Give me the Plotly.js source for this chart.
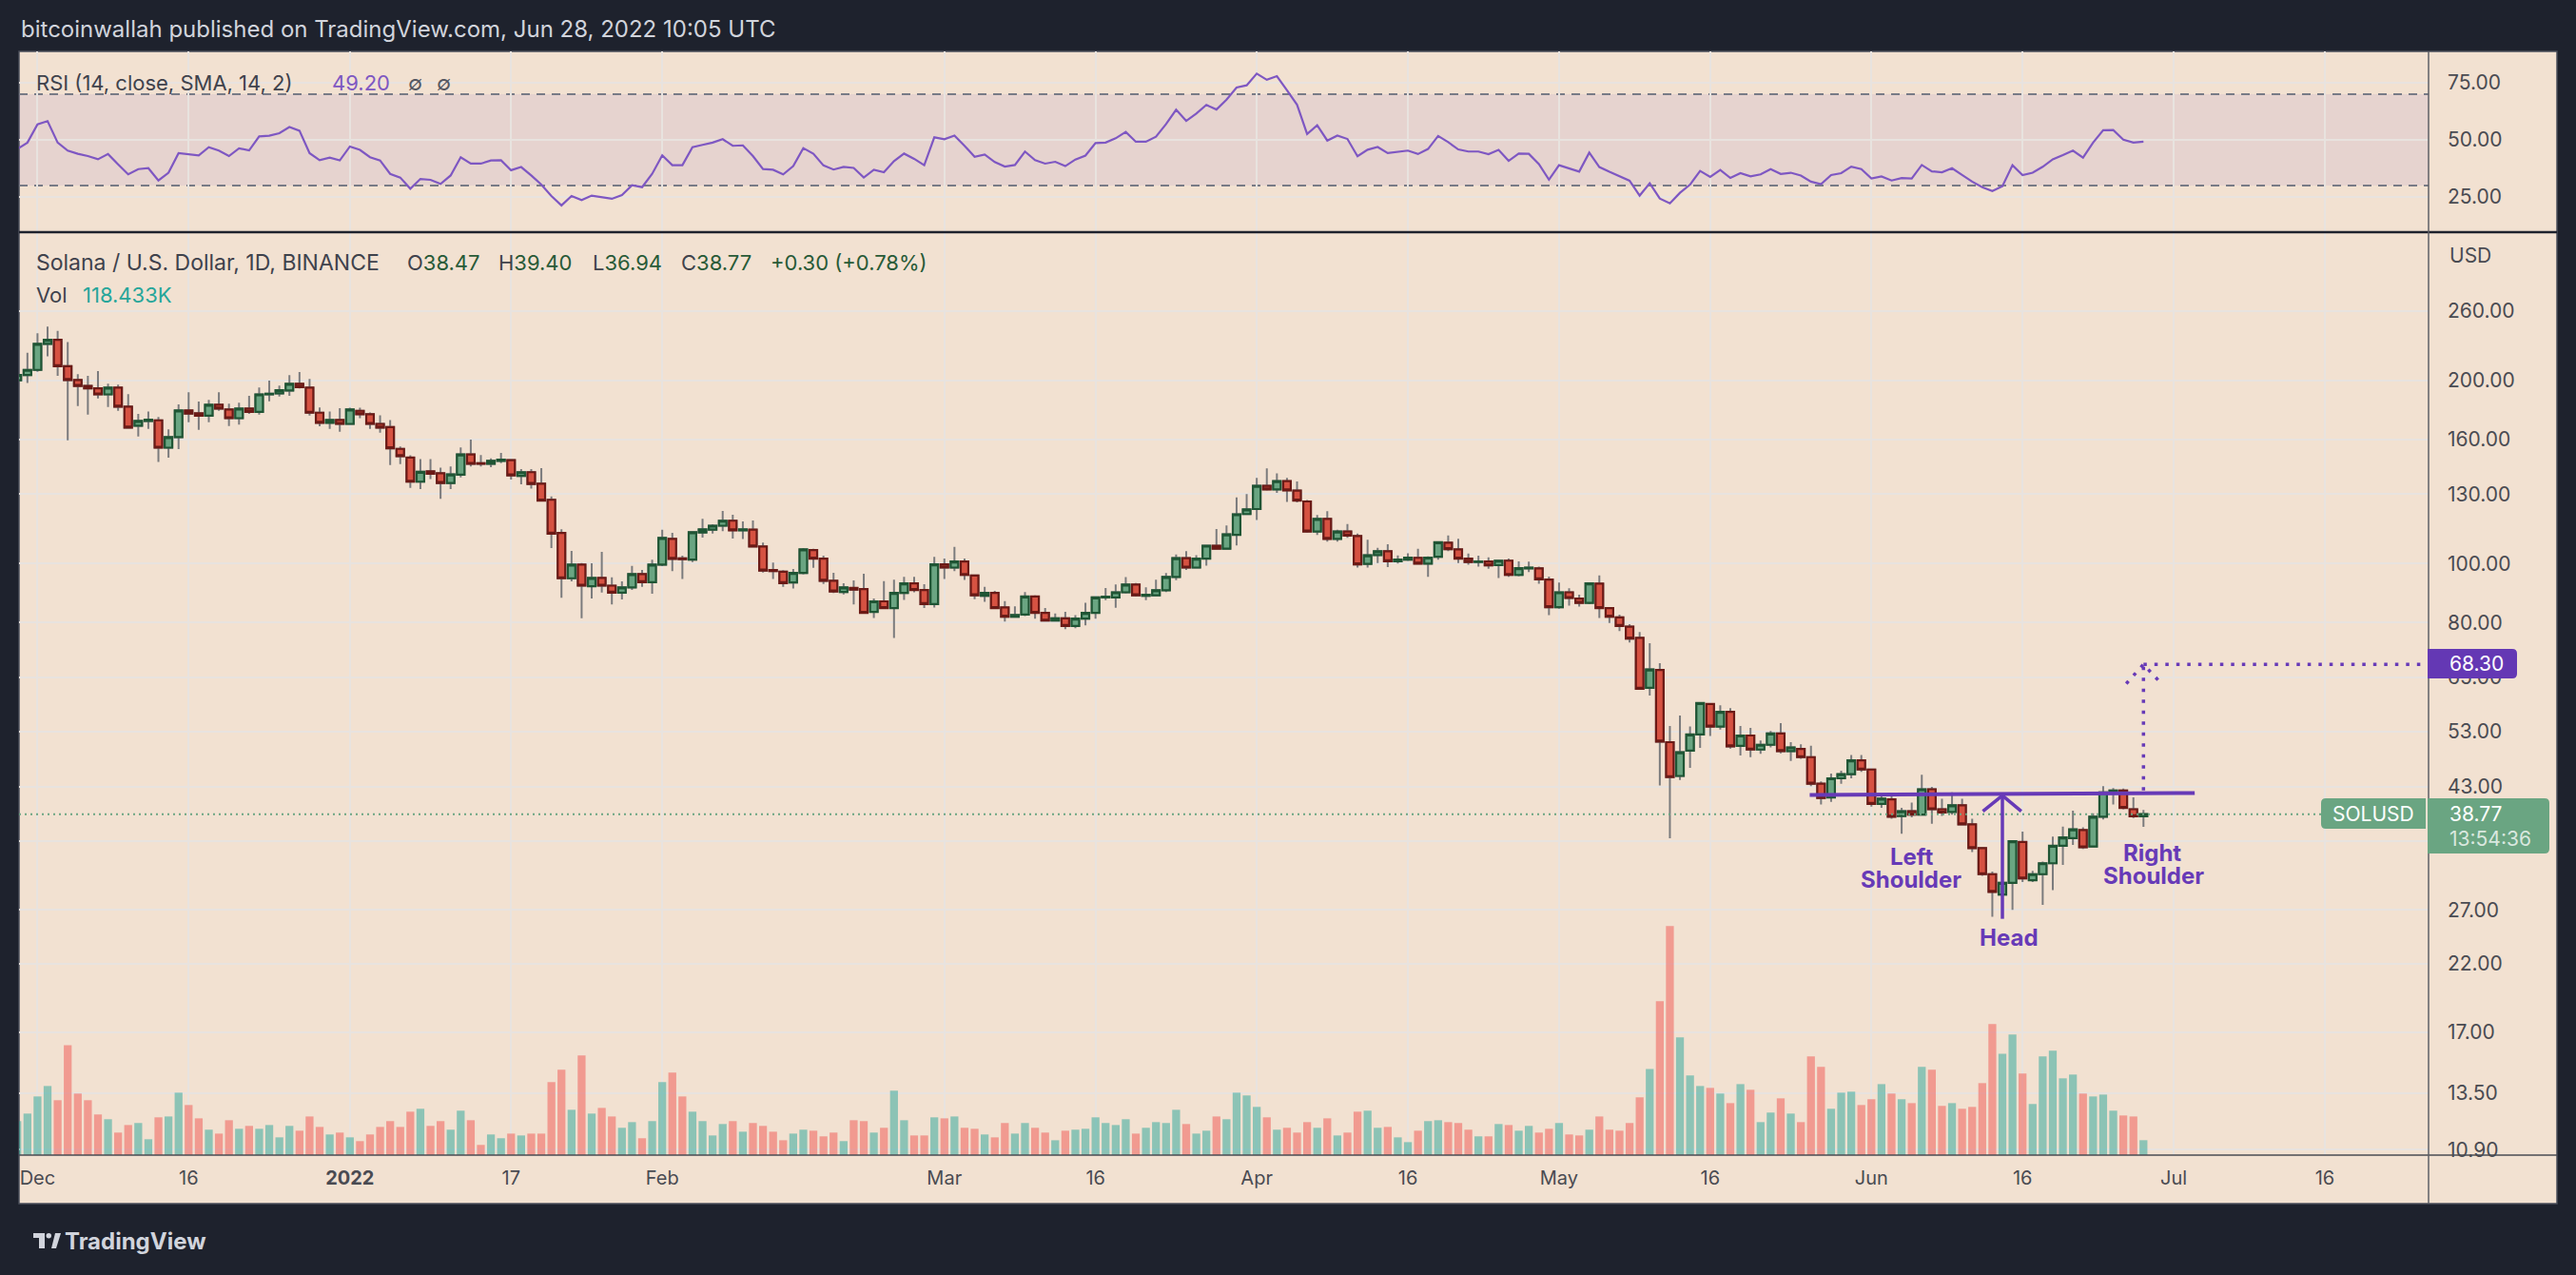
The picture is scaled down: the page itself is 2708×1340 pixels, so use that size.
<!DOCTYPE html>
<html>
<head>
<meta charset="utf-8">
<script src="https://cdn.plot.ly/plotly-3.0.1.min.js"></script>
<style>
html,body{margin:0;padding:0;background:#1e222d;}
#chart{width:2708px;height:1340px;}
</style>
</head>
<body>
<div id="chart"></div>
<script>
// ---------------- DATA (SOL/USD daily, Binance, 2021-11-29 .. 2022-06-28) ----------------
const firstDay = '2021-11-29';

const openP = [
  200, 204,
  208, 229.5, 233, 211, 200.2, 195.8, 194, 189.6, 194.5, 181, 168.4, 171.5, 171.9, 155, 161.3, 178.4, 176.5, 175, 182.3, 179.1, 173.3, 179.7, 177.5, 189.6, 190.3, 192.4, 197.3, 194.5, 176.9, 170.3, 172.1,
  169.6, 178.2, 175.9, 169.6, 167.6, 154.3, 149.3, 136.3, 141.7, 140.7, 135.6, 140, 151.1, 146.2, 145.8, 147.5, 147.9, 139.3, 141.3, 135.3, 127.3, 112.3, 94.6, 99.6, 91.8, 94.7, 92, 89.6, 91.4, 96.1, 93.2,
  99.6, 109.8, 102, 101.5, 112.5, 113.7, 115.4, 117.6, 113.4, 113.7, 106.7, 97.6, 97, 93.1, 96.5, 105.2, 101.9, 93.7, 89.8, 91.2, 90.8, 83.3, 86.7, 84.5, 89.5, 92.8, 90.5, 85.8,
  99.7, 98.5, 100.8, 95.6, 88.5, 89.5, 84.7, 81.8, 82.5, 88.3, 83, 80.6, 81.3, 79, 81.2, 83, 88, 88, 89.7, 92.4, 88.5, 88.7, 90.4, 95.1, 102.1, 98.5, 101.9, 107, 105.8, 111.5, 120.6,
  122.9, 134.2, 132.4, 136.6, 131.8, 126.5, 112.9, 118.4, 109.8, 112.9, 111, 99.9, 103.3, 104.8, 100.9, 101.5, 102.2, 100, 102.6, 108.2, 105.5, 101.9, 100.6, 100.8, 99.4, 101.1, 95.8, 98.2, 98.2, 94.1,
  84.8, 89.7, 87.6, 86.2, 92.7, 84.5, 81.6, 78.8, 75.5, 62.5, 66.9, 50.9, 44.8, 49.3, 52.4, 58.8, 54, 57.1, 50.2, 52.2, 49.5, 50.4, 52.6, 49.2, 49.6, 48.1, 43.5, 41.3, 44.4, 45.1, 47.5,
  45.9, 40.3, 41, 38.5, 39.2, 38.7, 42.6, 39.5, 39.1, 40.1, 37.3, 34.1, 30.9, 28.6, 29.9, 34.9, 30.2, 30.9, 32.2, 34.4, 35.4, 36.5, 34.3, 38.4, 42, 42.4, 39.5, 38.47
];
const highP = [
  207, 222,
  239, 245, 241, 231, 204.7, 203.3, 207, 197.5, 196.8, 189.8, 176.1, 177.7, 174.1, 166.1, 182.5, 191.2, 184.5, 185.8, 191.2, 183.1, 183.8, 188.5, 194.7, 199.7, 196, 204, 206.3, 201.1, 180.5, 177.7, 179.9,
  180.3, 180.3, 177.1, 175.2, 172.1, 155.7, 150.6, 148.4, 148.4, 143.7, 144.4, 155.2, 159.8, 150.8, 148.9, 151.9, 148.2, 143, 143, 143.5, 128.9, 113.9, 104.9, 100.2, 100.1, 104.5, 94.9, 93.5, 99.1, 97.6, 101.5,
  113.7, 112.3, 103, 112.8, 118.5, 116, 122, 120.3, 117.3, 117.7, 108.3, 100.4, 97.5, 98, 106, 105.8, 103, 96.6, 92.8, 93.8, 96.2, 87.6, 93.6, 94.1, 95.1, 95.1, 92.5, 102.6,
  101.9, 106.5, 101.9, 95.8, 91.6, 90.2, 86.8, 85.1, 89.8, 88.7, 84.5, 82.8, 83.3, 82.3, 86.2, 88.2, 91.2, 92.4, 95, 92.9, 91.4, 94.1, 96.5, 103.5, 104.8, 103.2, 107.4, 114, 115.5, 128.4, 130.1,
  138.3, 143.3, 140.7, 138.3, 136.4, 127.2, 120.2, 121.9, 113.6, 116.1, 112, 109.4, 106.1, 107.6, 103.1, 104, 105.8, 102.8, 108.6, 111.2, 109.8, 103.9, 103, 102.4, 101.5, 101.9, 100.8, 100.7, 98.9, 95.2,
  93.1, 91.1, 88.9, 93, 95.6, 84.8, 82.4, 79.5, 77.2, 74, 68.6, 54.1, 56.3, 54, 59.2, 58.8, 58.5, 57.9, 54.1, 53.7, 51.2, 53.1, 54.7, 50.9, 50.5, 50.2, 43.9, 45.2, 45.7, 48.5, 48.5,
  46, 41.9, 41.9, 39.7, 40.5, 45, 43, 41.1, 42.1, 41.1, 38.1, 34.1, 31.2, 31.5, 35, 36.3, 31.3, 32.4, 35.6, 37, 39.3, 36.9, 38.9, 43.1, 42.8, 42.7, 41.3, 39.4
];
const lowP = [
  197, 198,
  206.5, 219, 203.3, 159.4, 181.4, 175.6, 186.7, 180.8, 178.2, 167, 161.7, 166.4, 146.9, 149.2, 154.1, 170.7, 165.8, 170.7, 178.2, 168.2, 169.2, 176.1, 175.6, 184.7, 188, 188.5, 194, 175, 168, 166.4, 164.6,
  169, 173.3, 166.4, 164, 145.1, 145.7, 133.1, 132.6, 137.6, 127.8, 132.6, 138.5, 144.4, 144.4, 144, 146.2, 137.4, 134.9, 132.8, 126.5, 106, 87.9, 93.5, 81.3, 87.6, 89.6, 85.7, 87.3, 90.5, 91.6, 89.2,
  99, 97.2, 94.3, 100.6, 110.3, 112, 113, 109.9, 109.7, 106.5, 96.7, 94.3, 91.6, 91, 96, 98.4, 92.6, 89.5, 89, 85.7, 83, 81.4, 84.3, 75.5, 87.2, 89.7, 84.5, 84.7,
  94.3, 97.2, 94, 87.4, 86.5, 84.3, 80.3, 81.5, 82, 81.2, 80.4, 80.4, 78, 78.3, 79.2, 81.2, 87.1, 84.6, 89.3, 88.3, 87.1, 88.5, 89.8, 93.9, 97.6, 98.3, 99.2, 105.5, 105.8, 107.1, 120.4,
  117.9, 131.8, 130.7, 126.3, 126, 112.4, 111.4, 108.7, 108.7, 110.2, 98.5, 98.5, 100.2, 98.7, 100, 101, 100, 95.1, 101.5, 104.8, 100.2, 99.6, 98.9, 98.1, 94.7, 95.1, 95.3, 96.8, 92.7, 82.3,
  84.3, 85.3, 85, 85.8, 81.4, 79.9, 77.5, 74.2, 62.2, 60.7, 43.2, 35.4, 44.1, 46.2, 49.8, 52.1, 53.4, 49.7, 48.4, 48.1, 48.7, 49.9, 48.8, 47.4, 47.8, 43.1, 40.2, 40.6, 43.5, 44.4, 45.5,
  39.9, 39.7, 38.1, 36, 38.3, 38.6, 37.4, 38.5, 38.7, 37.2, 33.6, 30.7, 26.3, 26.2, 27, 30, 30, 27.5, 29.1, 32, 34.5, 34, 34.3, 38, 40.2, 39.5, 38.2, 36.94
];
const closeP = [
  204, 208,
  229.5, 233, 211, 200.2, 195.8, 194, 189.6, 194.5, 181, 167.2, 171.5, 172.3, 155, 161.3, 178.4, 176.3, 175, 182.3, 179.7, 173.3, 179.7, 177.5, 189.6, 190.1, 192.6, 197.3, 194.9, 176.9, 170.3, 172.1, 169.6,
  179.1, 175.9, 169.6, 167.2, 154.6, 150.1, 136.3, 141.5, 140.5, 135.6, 140.1, 151.1, 145.8, 145.8, 147.5, 148.2, 139.6, 141.3, 135.1, 126.9, 112, 94.6, 99.6, 92, 94.7, 92, 89.6, 91.4, 96.1, 93.2, 99.6,
  110.2, 101.8, 101.7, 112.6, 113.8, 115.4, 117.6, 113.4, 113.8, 106.7, 97.4, 97.2, 92.9, 96.5, 105.5, 101.9, 93.7, 90, 91.4, 90.6, 83, 86.7, 84.5, 89.5, 92.8, 90.5, 85.8, 99.7,
  98.5, 100.8, 95.8, 88.7, 89.5, 84.5, 81.8, 82.3, 88.3, 83, 80.6, 81.3, 79, 81.2, 83, 88, 88.2, 89.7, 92.4, 88.7, 88.9, 90.4, 95.1, 102.1, 98.5, 101.9, 107, 105.8, 111.7, 120.5, 122.7,
  134.2, 132.4, 136.6, 131.9, 126.9, 112.9, 118.4, 109.8, 112.9, 111.2, 99.7, 103.2, 104.8, 100.9, 101.5, 102.3, 100, 102.3, 108.4, 105.6, 101.9, 100.6, 100.8, 99.3, 101.1, 95.8, 98.3, 98.5, 94.2, 84.8,
  89.7, 87.8, 86.2, 92.8, 84.5, 81.8, 79, 75.3, 62.3, 67, 51, 44.6, 49, 52.4, 59, 54, 57.1, 50.1, 52.2, 49.5, 50.4, 52.6, 49.2, 49.9, 48.1, 43.5, 41.2, 44.4, 45.1, 47.5, 45.9,
  40.3, 41.1, 38.4, 39.2, 38.7, 42.6, 39.5, 39, 40.1, 37.3, 34.1, 30.9, 28.9, 29.9, 35, 30.4, 30.9, 32.2, 34.4, 35.5, 36.6, 34.2, 38.4, 42.1, 42.4, 39.7, 38.47, 38.77
];
// volume, thousands of SOL
const volumeK = [
  270, 330,
  466, 549, 436, 874, 489, 436, 323, 285, 179, 239, 255, 126, 300, 307, 496, 398, 292, 202, 171, 277, 209, 232, 209, 239, 141, 232, 194, 307, 224, 164, 179,
  141, 111, 164, 224, 270, 224, 345, 368, 232, 270, 202, 353, 277, 81, 164, 134, 171, 156, 171, 171, 580, 678, 360, 791, 330, 375, 307, 217, 262, 134, 270,
  580, 655, 466, 345, 270, 156, 247, 270, 186, 255, 232, 186, 118, 171, 202, 194, 149, 179, 111, 277, 270, 179, 217, 512, 277, 156, 156, 300,
  292, 307, 217, 209, 164, 141, 255, 171, 255, 217, 179, 118, 194, 202, 209, 300, 255, 239, 285, 171, 217, 262, 255, 360, 247, 171, 194, 307, 285, 496, 474,
  383, 300, 202, 217, 179, 262, 217, 292, 156, 179, 345, 353, 217, 224, 141, 103, 194, 270, 277, 262, 255, 202, 149, 149, 247, 239, 194, 232, 179, 209,
  255, 164, 156, 202, 307, 202, 194, 255, 459, 685, 1222, 1819, 935, 633, 549, 534, 489, 413, 564, 519, 262, 338, 451, 330, 262, 784, 701, 368, 496, 504, 398,
  444, 564, 489, 444, 413, 701, 678, 391, 413, 368, 383, 572, 1041, 806, 958, 648, 406, 784, 829, 610, 640, 489, 466, 481, 353, 315, 307, 118.433
];
// RSI(14) values
const rsiVals = [
  46, 48.8,
  56.8, 58.2, 48.8, 45.3, 43.9, 42.9, 41.5, 43.8, 39.3, 34.9, 37.2, 37.6, 32.2, 35.6, 44.2, 43.6, 43.2, 46.8, 45.3, 42.9, 46.3, 45.4, 51.5, 51.8, 52.9, 55.6, 54.0, 44.2, 41.1, 42.2, 41.0,
  47.1, 45.6, 42.4, 41.0, 35.1, 33.5, 28.6, 32.9, 32.5, 30.7, 34.4, 42.4, 39.6, 39.6, 41.0, 41.1, 36.7, 38.1, 34.4, 30.4, 25.4, 21.3, 25.4, 23.6, 25.6, 24.9, 24.2, 25.8, 30.1, 29.3, 35.1,
  43.2, 38.9, 38.9, 46.8, 47.8, 48.8, 50.3, 47.4, 47.6, 42.9, 37.2, 36.9, 34.9, 38.5, 46.4, 43.9, 38.8, 37.0, 38.2, 37.7, 33.5, 36.9, 35.8, 40.7, 44.0, 41.7, 38.9, 51.1,
  50.3, 51.9, 47.4, 42.6, 43.6, 40.3, 38.3, 39.0, 44.9, 41.1, 39.6, 40.4, 38.5, 41.4, 43.1, 48.6, 48.8, 50.7, 53.5, 49.2, 49.2, 51.4, 56.9, 63.2, 58.3, 61.5, 65.3, 63.3, 67.6, 72.9, 73.9,
  79.0, 76.3, 77.9, 71.7, 65.4, 52.6, 56.4, 49.7, 51.9, 50.4, 42.8, 45.7, 46.9, 44.2, 44.7, 45.3, 43.8, 46.0, 51.7, 49.0, 45.8, 44.9, 44.9, 43.7, 45.6, 40.8, 44.0, 43.9, 39.4, 32.6,
  38.9, 37.5, 36.1, 44.4, 38.1, 36.0, 34.0, 32.1, 25.6, 31.0, 24.3, 22.2, 26.8, 30.4, 36.4, 33.8, 36.8, 33.3, 35.4, 34.0, 34.9, 37.2, 35.1, 35.6, 34.4, 31.7, 30.6, 34.6, 35.4, 38.3, 37.2,
  33.1, 34.0, 32.2, 33.3, 33.1, 39.0, 36.2, 35.8, 37.6, 34.6, 31.7, 29.3, 27.6, 29.7, 38.9, 34.6, 35.6, 38.2, 41.5, 43.3, 45.3, 42.2, 48.8, 54.2, 54.3, 50.1, 48.8, 49.2
];

// axis ticks
const dateTickVals = ['2021-12-01','2021-12-16','2022-01-01','2022-01-17','2022-02-01','2022-03-01','2022-03-16','2022-04-01','2022-04-16','2022-05-01','2022-05-16','2022-06-01','2022-06-16','2022-07-01','2022-07-16'];
const dateTickText = ['Dec','16','<b>2022</b>','17','Feb','Mar','16','Apr','16','May','16','Jun','16','Jul','16'];
const priceTickVals = [10.9, 13.5, 17, 22, 27, 35, 43, 53, 65, 80, 100, 130, 160, 200, 260];
const priceTickText = ['10.90','13.50','17.00','22.00','27.00','','43.00','53.00','65.00','80.00','100.00','130.00','160.00','200.00','260.00'];
const rsiTickVals = [25, 50, 75];

// drawn pattern (head & shoulders) annotation points
const necklineX = ['2022-05-25 21:00', '2022-07-03 02:00'];
const necklineY = [41.7, 42.0];
const headArrowX = ['2022-06-14', '2022-06-14'];
const headArrowY = [26.1, 41.6];
const headTipX = ['2022-06-12 01:30', '2022-06-14', '2022-06-15 21:00'];
const headTipY = [39.2, 41.6, 39.2];
const targetUpX = ['2022-06-28', '2022-06-28'];
const targetUpY = [42.4, 68.3];
const targetLineX = ['2022-06-28', '2022-07-27'];
const targetLineY = [68.3, 68.3];
const targetTipX = ['2022-06-26 07:00', '2022-06-28', '2022-06-29 19:00'];
const targetTipY = [63.5, 68.3, 63.5];
const lastPrice = 38.77;
const targetPrice = 68.30;

// ---------------- BUILD ----------------
const DAY = 86400000;
const t0 = Date.parse(firstDay + 'T00:00:00Z');
const dates = openP.map((_, i) => new Date(t0 + i * DAY).toISOString().slice(0, 10));
const bodyHi = openP.map((o, i) => Math.max(o, closeP[i]));
const bodyLo = openP.map((o, i) => Math.min(o, closeP[i]));
const volColors = openP.map((o, i) => closeP[i] >= o ? 'rgba(38,166,154,0.5)' : 'rgba(239,83,80,0.5)');

const xStart = '2021-11-29 04:00';
const xEnd = '2022-07-26 07:00';

const FONT = 'Inter, "Noto Sans", sans-serif';
const TXT = '#4a4b52';
const GRID = '#e8e3df';
const PURPLE = '#673ab7';
const BOXPURPLE = '#6438b4';
const GREENBOX = '#6aa582';

// pixel helpers for paper-positioned decorations
const L = 20, R = 2553, T = 54, B = 1214;
const px = X => (X - L) / (R - L);
const py = Y => (B - Y) / (B - T);

const traces = [
  { type: 'bar', x: dates, y: volumeK, xaxis: 'x', yaxis: 'y3',
    marker: { color: volColors, line: { width: 0 } }, hoverinfo: 'skip' },
  { type: 'candlestick', x: dates, open: openP, high: highP, low: lowP, close: closeP,
    xaxis: 'x', yaxis: 'y', whiskerwidth: 0, hoverinfo: 'skip',
    increasing: { line: { color: '#7b7b7d', width: 2 }, fillcolor: 'rgba(0,0,0,0)' },
    decreasing: { line: { color: '#7b7b7d', width: 2 }, fillcolor: 'rgba(0,0,0,0)' } },
  { type: 'candlestick', x: dates, open: openP, high: bodyHi, low: bodyLo, close: closeP,
    xaxis: 'x', yaxis: 'y', whiskerwidth: 0, hoverinfo: 'skip',
    increasing: { line: { color: '#1f5534', width: 2.2 }, fillcolor: '#6aa582' },
    decreasing: { line: { color: '#6b1a16', width: 2.2 }, fillcolor: '#d65242' } },
  { type: 'scatter', mode: 'lines', x: [xStart, xEnd], y: [lastPrice, lastPrice], xaxis: 'x', yaxis: 'y',
    line: { color: GREENBOX, width: 2, dash: '2px,4px' }, hoverinfo: 'skip' },
  { type: 'scatter', mode: 'lines', x: necklineX, y: necklineY, line: { color: PURPLE, width: 4 }, hoverinfo: 'skip' },
  { type: 'scatter', mode: 'lines', x: headArrowX, y: headArrowY, line: { color: PURPLE, width: 3.5 }, hoverinfo: 'skip' },
  { type: 'scatter', mode: 'lines', x: headTipX, y: headTipY, line: { color: PURPLE, width: 3.5 }, hoverinfo: 'skip' },
  { type: 'scatter', mode: 'lines', x: targetUpX, y: targetUpY, line: { color: PURPLE, width: 3.5, dash: '3.5px,8px' }, hoverinfo: 'skip' },
  { type: 'scatter', mode: 'lines', x: targetLineX, y: targetLineY, line: { color: PURPLE, width: 3.5, dash: '3.5px,8px' }, hoverinfo: 'skip' },
  { type: 'scatter', mode: 'lines', x: targetTipX, y: targetTipY, line: { color: PURPLE, width: 3.5, dash: '3.5px,8px' }, hoverinfo: 'skip' },
  { type: 'scatter', mode: 'lines', x: dates, y: rsiVals, xaxis: 'x2', yaxis: 'y2',
    line: { color: '#7e57c2', width: 2.2 }, hoverinfo: 'skip' }
];

function txt(X, Y, text, size, color, extra) {
  return Object.assign({ xref: 'paper', yref: 'paper', x: px(X), y: py(Y), text: text, showarrow: false,
    xanchor: 'left', yanchor: 'middle', font: { family: FONT, size: size, color: color } }, extra || {});
}
const G = '#285a37';
const LEG = '#3f424c';
const annotations = [
  txt(20, 31, 'bitcoinwallah published on TradingView.com, Jun 28, 2022 10:05 UTC', 24, '#d1d4dc'),
  txt(36, 87, 'RSI (14, close, SMA, 14, 2)', 22, LEG),
  txt(347, 87, '49.20', 22, '#7e57c2'),
  txt(427, 87, '∅', 22, '#555862'),
  txt(457, 87, '∅', 22, '#555862'),
  txt(36, 276, 'Solana / U.S. Dollar, 1D, BINANCE', 23, LEG),
  txt(426, 276, 'O<span style="color:' + G + '">38.47</span>', 22, LEG),
  txt(522, 276, 'H<span style="color:' + G + '">39.40</span>', 22, LEG),
  txt(621, 276, 'L<span style="color:' + G + '">36.94</span>', 22, LEG),
  txt(714, 276, 'C<span style="color:' + G + '">38.77</span>', 22, LEG),
  txt(808, 276, '+0.30 (+0.78%)', 22, G),
  txt(36, 310, 'Vol', 22, LEG),
  txt(85, 310, '118.433K', 22, '#26a69a'),
  txt(2573, 268, 'USD', 21, TXT),
  txt(2009, 900, '<b>Left</b>', 24, PURPLE, { xanchor: 'center' }),
  txt(2009, 924, '<b>Shoulder</b>', 24, PURPLE, { xanchor: 'center' }),
  txt(2112, 986, '<b>Head</b>', 24, PURPLE, { xanchor: 'center' }),
  txt(2262, 896, '<b>Right</b>', 24, PURPLE, { xanchor: 'center' }),
  txt(2264, 920, '<b>Shoulder</b>', 24, PURPLE, { xanchor: 'center' }),
  txt(2573, 697.5, targetPrice.toFixed(2), 21, '#ffffff'),
  txt(2573, 855, lastPrice.toFixed(2), 21, '#ffffff'),
  txt(2573, 881, '13:54:36', 21, 'rgba(255,255,255,0.75)'),
  txt(2495, 855, 'SOLUSD', 21, '#ffffff', { xanchor: 'center' }),
  txt(66, 1304, '<b>TradingView</b>', 24, '#d1d4dc')
];

function pathPx(pts) {
  return 'M' + pts.map(p => px(p[0]) + ',' + py(p[1])).join(' L') + ' Z';
}
function roundBox(x0, y0, x1, y1, rl, rr) {
  const P = (x, y) => px(x) + ',' + py(y);
  return 'M' + P(x0 + rl, y0) + ' L' + P(x1 - rr, y0) + ' Q' + P(x1, y0) + ' ' + P(x1, y0 + rr) +
    ' L' + P(x1, y1 - rr) + ' Q' + P(x1, y1) + ' ' + P(x1 - rr, y1) +
    ' L' + P(x0 + rl, y1) + ' Q' + P(x0, y1) + ' ' + P(x0, y1 - rl) +
    ' L' + P(x0, y0 + rl) + ' Q' + P(x0, y0) + ' ' + P(x0 + rl, y0) + ' Z';
}
const shapes = [
  // panel background
  { type: 'rect', xref: 'paper', yref: 'paper', x0: px(20), x1: px(2688), y0: py(1265), y1: py(54),
    fillcolor: '#f2e1d1', line: { color: '#4a4e5a', width: 1.5 }, layer: 'below' },
  // RSI band
  { type: 'rect', xref: 'paper', yref: 'y2', x0: 0, x1: 1, y0: 30, y1: 70,
    fillcolor: 'rgba(126,87,194,0.1)', line: { width: 0 }, layer: 'below' },
  { type: 'line', xref: 'paper', yref: 'y2', x0: 0, x1: 1, y0: 70, y1: 70, line: { color: '#787b86', width: 2, dash: '9px,7px' }, layer: 'below' },
  { type: 'line', xref: 'paper', yref: 'y2', x0: 0, x1: 1, y0: 50, y1: 50, line: { color: 'rgba(120,123,134,0.5)', width: 2, dash: '9px,7px' }, layer: 'below' },
  { type: 'line', xref: 'paper', yref: 'y2', x0: 0, x1: 1, y0: 30, y1: 30, line: { color: '#787b86', width: 2, dash: '9px,7px' }, layer: 'below' },
  // pane separators
  { type: 'line', xref: 'paper', yref: 'paper', x0: px(20), x1: px(2688), y0: py(244), y1: py(244), line: { color: '#1e222d', width: 2.5 } },
  { type: 'line', xref: 'paper', yref: 'paper', x0: px(20), x1: px(2688), y0: py(1214), y1: py(1214), line: { color: '#4a4b52', width: 1.5 } },
  { type: 'line', xref: 'paper', yref: 'paper', x0: px(2553), x1: px(2553), y0: py(54), y1: py(1265), line: { color: '#5e5f66', width: 1.5 } },
  // price-scale labels
  { type: 'path', xref: 'paper', yref: 'paper', path: roundBox(2552, 682, 2646, 713, 0, 5), fillcolor: BOXPURPLE, line: { width: 0 } },
  { type: 'path', xref: 'paper', yref: 'paper', path: roundBox(2552, 839, 2680, 897, 0, 5), fillcolor: GREENBOX, line: { width: 0 } },
  { type: 'path', xref: 'paper', yref: 'paper', path: roundBox(2440, 839, 2550, 871, 5, 0), fillcolor: GREENBOX, line: { width: 0 } },
  // TradingView logo mark
  { type: 'path', xref: 'paper', yref: 'paper', path: pathPx([[35,1296],[47,1296],[47,1312],[41,1312],[41,1301],[35,1301]]), fillcolor: '#d1d4dc', line: { width: 0 } },
  { type: 'circle', xref: 'paper', yref: 'paper', x0: px(48.5), x1: px(54), y0: py(1301.5), y1: py(1296), fillcolor: '#d1d4dc', line: { width: 0 } },
  { type: 'path', xref: 'paper', yref: 'paper', path: pathPx([[54,1312],[58,1296],[64,1296],[59,1312]]), fillcolor: '#d1d4dc', line: { width: 0 } }
];

const axisCommon = { showline: false, zeroline: false, ticks: '', fixedrange: true, gridcolor: GRID, gridwidth: 2 };

const layout = {
  width: 2708, height: 1340,
  margin: { l: 20, r: 155, t: 54, b: 126, pad: 0 },
  paper_bgcolor: '#1e222d', plot_bgcolor: 'rgba(0,0,0,0)',
  showlegend: false, hovermode: false, dragmode: false,
  font: { family: FONT, size: 21, color: TXT },
  bargap: 0.22, boxgap: 0.25, boxgroupgap: 0,
  xaxis: Object.assign({}, axisCommon, { type: 'date', range: [xStart, xEnd], domain: [0, 1], anchor: 'y',
    tickmode: 'array', tickvals: dateTickVals, ticktext: dateTickText, showgrid: true,
    tickfont: { family: FONT, size: 20, color: TXT }, ticklabelstandoff: 10, rangeslider: { visible: false } }),
  xaxis2: Object.assign({}, axisCommon, { type: 'date', matches: 'x', anchor: 'y2', domain: [0, 1],
    tickmode: 'array', tickvals: dateTickVals, showticklabels: false, showgrid: true, rangeslider: { visible: false } }),
  yaxis: Object.assign({}, axisCommon, { type: 'log', domain: [0, py(245)],
    range: [Math.log10(10.68), Math.log10(348.9)], side: 'right', anchor: 'x',
    tickmode: 'array', tickvals: priceTickVals, ticktext: priceTickText,
    showgrid: true, tickfont: { family: FONT, size: 21, color: TXT }, ticklabelstandoff: 19 }),
  yaxis2: Object.assign({}, axisCommon, { domain: [py(243), 1], range: [10, 88.75], side: 'right', anchor: 'x2',
    tickmode: 'array', tickvals: rsiTickVals, ticktext: rsiTickVals.map(v => v.toFixed(2)),
    showgrid: true, tickfont: { family: FONT, size: 21, color: TXT }, ticklabelstandoff: 19 }),
  yaxis3: { overlaying: 'y', anchor: 'x', side: 'right', range: [0, 7325], visible: false, fixedrange: true, showgrid: false },
  shapes: shapes,
  annotations: annotations
};

Plotly.newPlot('chart', traces, layout, { staticPlot: true, displayModeBar: false });
</script>
</body>
</html>
